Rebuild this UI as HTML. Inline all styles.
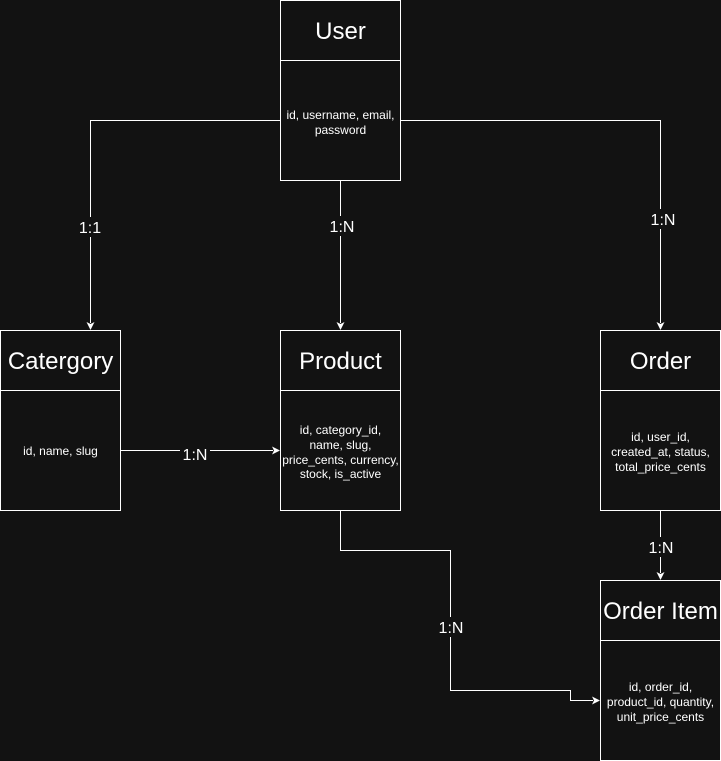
<!DOCTYPE html>
<html><head><style>
body{margin:0;background:#121212;}
svg{display:block}
text{font-family:"Liberation Sans",Helvetica,Arial,sans-serif;fill:#fff;text-anchor:middle}
.t{font-size:24px}
.a{font-size:12px}
.l{font-size:16px}
</style></head><body>
<svg width="721" height="761" viewBox="0 0 721 761" xmlns="http://www.w3.org/2000/svg">
<rect width="721" height="761" fill="#121212"/>
<g fill="none" stroke="#fff" stroke-width="1">
<path d="M280.5 120.5H90.5V323"/>
<path d="M340.5 180V323"/>
<path d="M400.5 120.5H660.5V323"/>
<path d="M120.5 450.5H273"/>
<path d="M340.5 510V550.5H450.5V690.5H570.5V700.5H593"/>
<path d="M660.5 510V573"/>
</g>
<g fill="#fff">
<path d="M90.5 330l-4-8 4 2 4-2z"/>
<path d="M340.5 330l-4-8 4 2 4-2z"/>
<path d="M660.5 330l-4-8 4 2 4-2z"/>
<path d="M660.5 580l-4-8 4 2 4-2z"/>
<path d="M280 450.5l-8-4 2 4-2 4z"/>
<path d="M600 700.5l-8-4 2 4-2 4z"/>
</g>
<g fill="#121212">
<rect x="76" y="217" width="30" height="20"/>
<rect x="326" y="216" width="30" height="20"/>
<rect x="648" y="209" width="30" height="20"/>
<rect x="180" y="444" width="30" height="20"/>
<rect x="436" y="617" width="30" height="20"/>
<rect x="646" y="537" width="30" height="20"/>
</g>
<text class="l" x="90" y="233">1:1</text>
<text class="l" x="342" y="232">1:N</text>
<text class="l" x="663" y="225">1:N</text>
<text class="l" x="195" y="460">1:N</text>
<text class="l" x="451" y="633">1:N</text>
<text class="l" x="661" y="553">1:N</text>
<g fill="#121212" stroke="#fff" stroke-width="1">
<rect x="280.5" y="0.5" width="120" height="180"/><path d="M280.5 60.5H400.5"/>
<rect x="0.5" y="330.5" width="120" height="180"/><path d="M0.5 390.5H120.5"/>
<rect x="280.5" y="330.5" width="120" height="180"/><path d="M280.5 390.5H400.5"/>
<rect x="600.5" y="330.5" width="120" height="180"/><path d="M600.5 390.5H720.5"/>
<rect x="600.5" y="580.5" width="120" height="180"/><path d="M600.5 640.5H720.5"/>
</g>
<text class="t" x="340.5" y="39">User</text>
<text class="a" x="340.5" y="119">id, username, email,</text>
<text class="a" x="340.5" y="134">password</text>
<text class="t" x="60.5" y="369">Catergory</text>
<text class="a" x="60.5" y="455">id, name, slug</text>
<text class="t" x="340.5" y="369">Product</text>
<text class="a" x="340.5" y="434">id, category_id,</text>
<text class="a" x="340.5" y="449">name, slug,</text>
<text class="a" x="340.5" y="464">price_cents, currency,</text>
<text class="a" x="340.5" y="478">stock, is_active</text>
<text class="t" x="660.5" y="369">Order</text>
<text class="a" x="660.5" y="441">id, user_id,</text>
<text class="a" x="660.5" y="456">created_at, status,</text>
<text class="a" x="660.5" y="471">total_price_cents</text>
<text class="t" x="660.5" y="619">Order Item</text>
<text class="a" x="660.5" y="691">id, order_id,</text>
<text class="a" x="660.5" y="706">product_id, quantity,</text>
<text class="a" x="660.5" y="721">unit_price_cents</text>
</svg>
</body></html>
